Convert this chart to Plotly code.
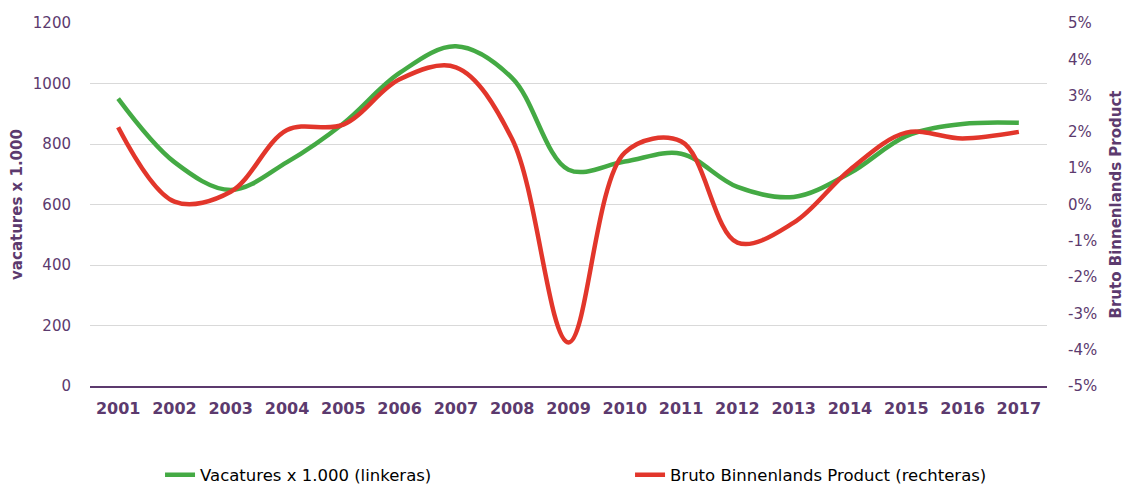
import plotly.graph_objects as go

years = [str(y) for y in range(2001, 2018)]
vacatures = [950, 740, 648, 740, 868, 1035, 1123, 1018, 715, 742, 768, 658, 625, 704, 826, 866, 870]
bbp = [2.13, 0.08, 0.35, 2.05, 2.2, 3.45, 3.78, 1.8, -3.8, 1.43, 1.74, -1.05, -0.5, 0.96, 1.98, 1.82, 2.0]

left_ticks = [0, 200, 400, 600, 800, 1000, 1200]
right_ticks = [-5, -4, -3, -2, -1, 0, 1, 2, 3, 4, 5]
right_labels = [f"{v}%" for v in right_ticks]

purple = "#5C3A6E"
green = "#44AA44"
red = "#E2362B"
font = "DejaVu Sans"
legend_font = dict(family="DejaVu Sans", size=16.5, color="#000000")

fig = go.Figure()
fig.add_trace(go.Scatter(x=years, y=vacatures, name="Vacatures x 1.000 (linkeras)", legend="legend",
                         mode="lines", line=dict(color=green, width=4.5, shape="spline", smoothing=1.0)))
fig.add_trace(go.Scatter(x=years, y=bbp, name="Bruto Binnenlands Product (rechteras)", yaxis="y2", legend="legend2",
                         mode="lines", line=dict(color=red, width=4.5, shape="spline", smoothing=1.0)))

# page has an 8px body margin, so the figure is 8px smaller and shifted
fig.update_layout(
    width=1122, height=477,
    margin=dict(l=82, r=83, t=15, b=99, autoexpand=False),
    plot_bgcolor="white", paper_bgcolor="white",
    font=dict(family=font, color=purple, size=14),
    showlegend=True,
    legend=dict(orientation="h", xref="container", x=0.1355, xanchor="left",
                yref="container", y=0.021, yanchor="middle",
                font=legend_font, itemwidth=30, bgcolor="rgba(0,0,0,0)"),
    legend2=dict(orientation="h", xref="container", x=0.5544, xanchor="left",
                 yref="container", y=0.021, yanchor="middle",
                 font=legend_font, itemwidth=30, bgcolor="rgba(0,0,0,0)"),
    xaxis=dict(type="category", range=[-0.5, 16.5], showgrid=False, showline=True, linecolor=purple, linewidth=2,
               ticks="", ticklabelstandoff=7,
               tickfont=dict(family=font, size=16, color=purple, weight="bold")),
    yaxis=dict(range=[0, 1200], tickvals=left_ticks, showgrid=True, gridcolor="#D9D9D9", gridwidth=1,
               zeroline=False, ticks="", ticklabelstandoff=18,
               title=dict(text="vacatures x 1.000", font=dict(family=font, size=15, color=purple, weight="bold"), standoff=16),
               tickfont=dict(family=font, size=15, color=purple)),
    yaxis2=dict(range=[-5, 5], tickvals=right_ticks, ticktext=right_labels, overlaying="y", side="right",
                showgrid=False, zeroline=False, ticks="", ticklabelstandoff=20,
                title=dict(text="Bruto Binnenlands Product", font=dict(family=font, size=15, color=purple, weight="bold"), standoff=14),
                tickfont=dict(family=font, size=15, color=purple)),
)

fig.write_html("out.html")
